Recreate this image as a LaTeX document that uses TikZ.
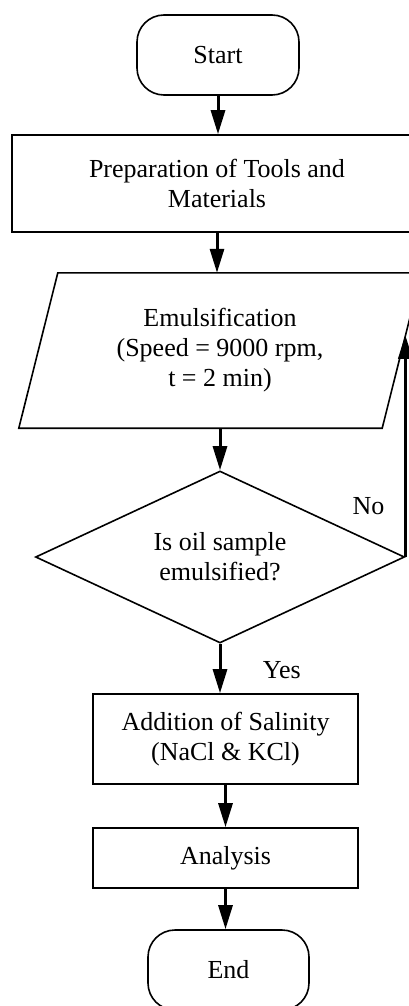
\documentclass[tikz,border=0pt]{standalone}
\usepackage{fontspec}
\setmainfont{Liberation Serif}
\usetikzlibrary{shapes.geometric,arrows.meta,calc}

\begin{document}
\begin{tikzpicture}[x=1pt, y=-1pt,
    font=\fontsize{26}{30}\selectfont,
    box/.style={draw, line width=1.6pt, align=center, inner sep=0pt},
    term/.style={box, rounded corners=27pt, minimum width=162pt, minimum height=80pt},
    flow/.style={line width=3pt, -{Triangle[length=24pt,width=14pt]}}]
    \useasboundingbox (0,0) rectangle (409,1006);

    \node[term] (start) at (218,55) {Start};
    \node[box, minimum width=410pt, minimum height=97pt] (prep) at (217,183.5) {Preparation of Tools and\\Materials};
    \node[align=center, inner sep=0pt, minimum width=402pt, minimum height=155pt] (emul) at (220,350.5) {Emulsification\\(Speed = 9000 rpm,\\t = 2 min)};
    \draw[line width=1.6pt] (emul.south west) -- ([xshift=39pt]emul.north west) -- (emul.north east) -- ([xshift=-39pt]emul.south east) -- cycle;
    \node[box, diamond, aspect=2.15, minimum width=369pt, minimum height=172pt] (dec) at (220,557) {Is oil sample\\emulsified?};
    \node[box, minimum width=265pt, minimum height=90pt] (add) at (225.5,739) {Addition of Salinity\\(NaCl \& KCl)};
    \node[box, minimum width=265pt, minimum height=60pt] (ana) at (225.5,858) {Analysis};
    \node[term, minimum width=161pt] (stop) at (228.5,970) {End};

    % point on the right side of the parallelogram
    \coordinate (noin) at ($(emul.north east)!0.4!([xshift=-39pt]emul.south east)$);

    \draw[flow] (start.south) -- (start.south |- prep.north);
    \draw[flow] (prep.south) -- (prep.south |- emul.north);
    \draw[flow] (emul.south) -- (dec.north);
    \draw[flow] (dec.east) -- node[pos=0.23, left=16pt] {No} (dec.east |- noin);
    \draw[flow] (dec.south) -- node[pos=0.53, right=38pt] {Yes} (dec.south |- add.north);
    \draw[flow] (add.south) -- (add.south |- ana.north);
    \draw[flow] (ana.south) -- (ana.south |- stop.north);
\end{tikzpicture}
\end{document}
